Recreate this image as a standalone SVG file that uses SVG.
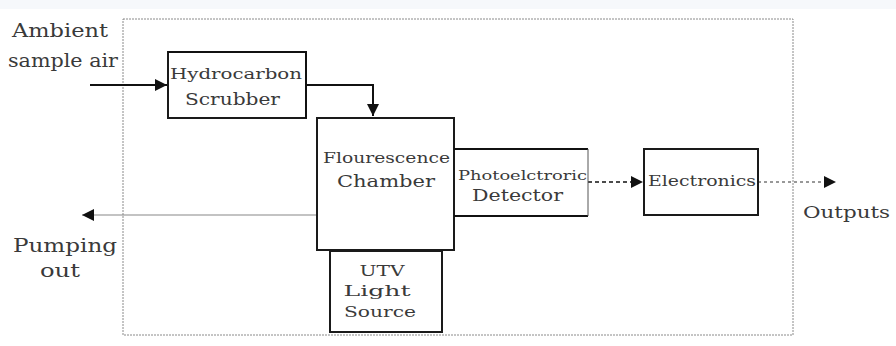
<svg xmlns="http://www.w3.org/2000/svg" width="896" height="346" viewBox="0 0 896 346">
<defs>
<style>
.t{font-family:"DejaVu Serif","Liberation Serif",serif;fill:#3a3a3a}
.box{fill:#fff;stroke:#1a1a1a;stroke-width:2}
.thin{fill:none;stroke:#555;stroke-width:1}
.solid{fill:none;stroke:#111;stroke-width:2}
.dash{fill:none;stroke:#111;stroke-width:1.5;stroke-dasharray:4 3}
.grey{fill:none;stroke:#888;stroke-width:1.2}
</style>
<marker id="ah" viewBox="0 0 10 10" refX="10" refY="5" markerWidth="12" markerHeight="12" markerUnits="userSpaceOnUse" orient="auto">
<path d="M0,0 L10,5 L0,10 Z" fill="#111"/>
</marker>
</defs>
<rect width="896" height="346" fill="#fff"/>
<rect x="0" y="0" width="896" height="9" fill="#f6f8fb"/>
<rect id="frame" x="123" y="19" width="670" height="316" fill="none" stroke="#8a8a8a" stroke-width="1" stroke-dasharray="2 1"/>

<g id="connectors">
<path class="solid" d="M90,85 L167,85" marker-end="url(#ah)"/>
<path class="solid" d="M306,85 L373,85 L373,116" marker-end="url(#ah)"/>
<path class="grey" d="M317,215 L82,215" marker-end="url(#ah)"/>
<path class="dash" d="M588,182 L643,182" marker-end="url(#ah)"/>
<path d="M758,182 L836,182" fill="none" stroke="#333" stroke-width="1" stroke-dasharray="3 3" marker-end="url(#ah)"/>
</g>

<g id="labels">
<text class="t" x="12" y="37" font-size="19" textLength="96" lengthAdjust="spacingAndGlyphs">Ambient</text>
<text class="t" x="8" y="67" font-size="18" textLength="110" lengthAdjust="spacingAndGlyphs">sample air</text>
<text class="t" x="13" y="252" font-size="18" textLength="104" lengthAdjust="spacingAndGlyphs">Pumping</text>
<text class="t" x="40" y="277" font-size="18" textLength="40" lengthAdjust="spacingAndGlyphs">out</text>
<text class="t" x="803" y="218" font-size="17" textLength="87" lengthAdjust="spacingAndGlyphs">Outputs</text>
</g>

<g id="scrubber">
<rect class="box" x="168" y="52" width="138" height="66" stroke-width="1.5"/>
<path class="solid" d="M168,52 L306,52 L306,118" stroke-width="2.5"/>
<text class="t" x="170" y="79" font-size="15" textLength="132" lengthAdjust="spacingAndGlyphs">Hydrocarbon</text>
<text class="t" x="185" y="105" font-size="17" textLength="95" lengthAdjust="spacingAndGlyphs">Scrubber</text>
</g>

<g id="chamber">
<rect class="box" x="317" y="118" width="137" height="132"/>
<text class="t" x="323" y="163" font-size="15" textLength="127" lengthAdjust="spacingAndGlyphs">Flourescence</text>
<text class="t" x="337" y="187" font-size="17" textLength="98" lengthAdjust="spacingAndGlyphs">Chamber</text>
</g>

<g id="detector">
<path class="solid" d="M454,149 L588,149 M454,216 L588,216"/>
<path class="thin" d="M588,149 L588,216"/>
<text class="t" x="458" y="180" font-size="13" textLength="129" lengthAdjust="spacingAndGlyphs">Photoelctroric</text>
<text class="t" x="472" y="201" font-size="16" textLength="91" lengthAdjust="spacingAndGlyphs">Detector</text>
</g>

<g id="electronics">
<rect class="box" x="644" y="149" width="114" height="66"/>
<text class="t" x="648" y="186" font-size="14" textLength="108" lengthAdjust="spacingAndGlyphs">Electronics</text>
</g>

<g id="uv-source">
<rect class="box" x="330" y="251" width="112" height="81"/>
<text class="t" x="382" y="276" font-size="15" text-anchor="middle" textLength="45" lengthAdjust="spacingAndGlyphs">UTV</text>
<text class="t" x="377" y="296" font-size="15" text-anchor="middle" textLength="67" lengthAdjust="spacingAndGlyphs">Light</text>
<text class="t" x="380" y="317" font-size="15" text-anchor="middle" textLength="72" lengthAdjust="spacingAndGlyphs">Source</text>
</g>
</svg>
